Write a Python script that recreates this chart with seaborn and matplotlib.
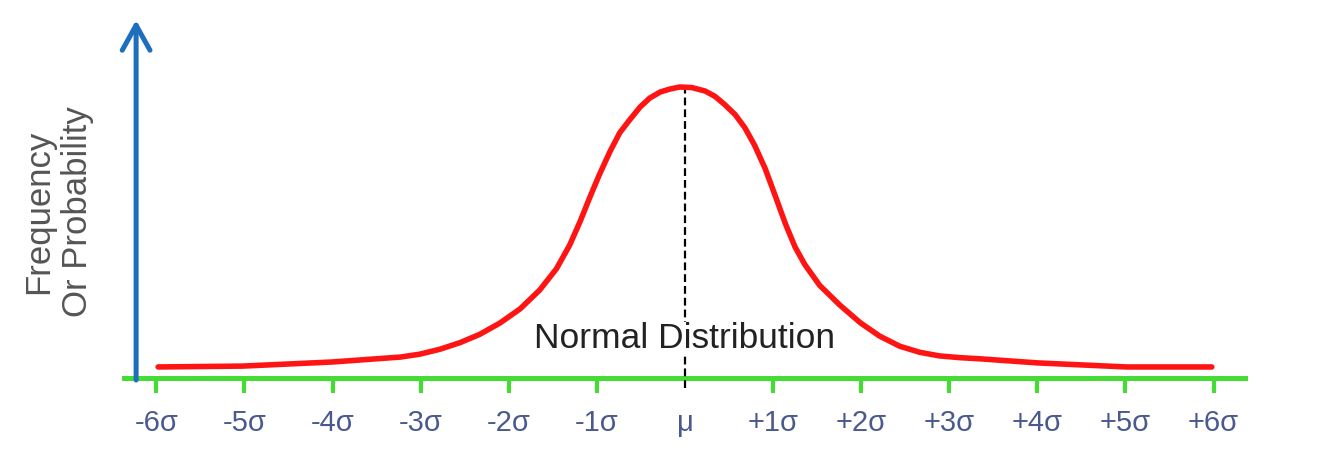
import matplotlib
matplotlib.use("Agg")
import matplotlib.pyplot as plt
import seaborn as sns
import pandas as pd

# Curve: position in sigma units, relative frequency (peak = 100)
sigma_pos = [-5.98, -5.02, -4.01, -3.46, -3.23, -3.01, -2.78, -2.55, -2.33, -2.10,
             -1.87, -1.65, -1.46, -1.31, -1.19, -1.08, -0.97, -0.85, -0.74, -0.62,
             -0.51, -0.40, -0.28, -0.17, -0.06, 0.08, 0.23, 0.34, 0.45, 0.57,
             0.68, 0.79, 0.91, 1.02, 1.14, 1.25, 1.36, 1.53, 1.76, 1.99,
             2.21, 2.44, 2.67, 2.89, 3.12, 3.35, 4.00, 5.01, 5.98]
frequency = [3.8, 4.1, 5.5, 6.7, 7.2, 8.2, 9.9, 12.2, 15.0, 18.9,
             23.8, 30.2, 37.5, 45.6, 53.8, 62.1, 70.0, 77.9, 84.3, 89.0,
             93.1, 96.2, 98.3, 99.3, 100.0, 99.8, 98.6, 96.8, 94.0, 90.5,
             86.0, 80.0, 72.0, 63.0, 53.0, 45.0, 39.0, 31.8, 25.0, 19.0,
             14.4, 10.9, 8.8, 7.6, 7.0, 6.6, 5.2, 3.8, 3.8]

tick_pos = [-6, -5, -4, -3, -2, -1, 0, 1, 2, 3, 4, 5, 6]
tick_labels = ["-6σ", "-5σ", "-4σ", "-3σ", "-2σ", "-1σ", "μ",
               "+1σ", "+2σ", "+3σ", "+4σ", "+5σ", "+6σ"]
mu = 0.0

RED = "#ff1414"
GREEN = "#45dc35"
BLUE = "#1e6ebe"
LABEL_BLUE = "#4b5a8e"

sns.set_style("white")
plt.rcParams["font.family"] = ["Liberation Sans", "DejaVu Sans"]

df = pd.DataFrame({"sigma": sigma_pos, "freq": frequency})

fig = plt.figure(figsize=(13.34, 4.63), dpi=100)
ax = fig.add_axes([0, 0, 1, 1])

sns.lineplot(data=df, x="sigma", y="freq", ax=ax, color=RED, lw=4,
             solid_capstyle="round", solid_joinstyle="round", zorder=4)

ax.set_xlim(-7.775, 7.367)
ax.set_ylim(-29.2, 129.9)

# green x axis with ticks
for side in ["left", "top", "right"]:
    ax.spines[side].set_visible(False)
ax.spines["bottom"].set_position(("data", 0))
ax.spines["bottom"].set_bounds(-6.37, 6.36)
ax.spines["bottom"].set_color(GREEN)
ax.spines["bottom"].set_linewidth(3.6)
ax.set_xticks(tick_pos)
ax.set_xticklabels(tick_labels)
ax.tick_params(axis="x", bottom=True, direction="out", length=11, width=3,
               color=GREEN, labelcolor=LABEL_BLUE, labelsize=21, pad=11)
ax.xaxis.get_major_ticks()[tick_pos.index(0)].tick1line.set_visible(False)
ax.set_yticks([])
ax.set_xlabel("")
ax.set_ylabel("")

# dashed line at the mean
ax.vlines(mu, -3.4, max(frequency), colors="black", lw=1.6,
          linestyles=(0, (3.5, 1.8)), zorder=3)

# blue y arrow
ax.annotate("", xy=(-6.23, 123.0), xytext=(-6.23, -0.7),
            arrowprops=dict(arrowstyle="->, head_length=0.9, head_width=0.5",
                            color=BLUE, lw=3.6, mutation_scale=20,
                            shrinkA=0, shrinkB=0),
            zorder=5)

ax.text(0.0435, 0.542, "Frequency\nOr Probability", transform=ax.transAxes,
        rotation=90, ha="center", va="center", multialignment="center",
        fontsize=25, color="#555555", linespacing=1.2)

ax.text(mu, 10.3, "Normal Distribution", ha="center", va="baseline",
        fontsize=25.5, color="#222222", zorder=3.5,
        bbox=dict(facecolor="white", edgecolor="none", pad=0))

fig.savefig("out.png", dpi=100)
